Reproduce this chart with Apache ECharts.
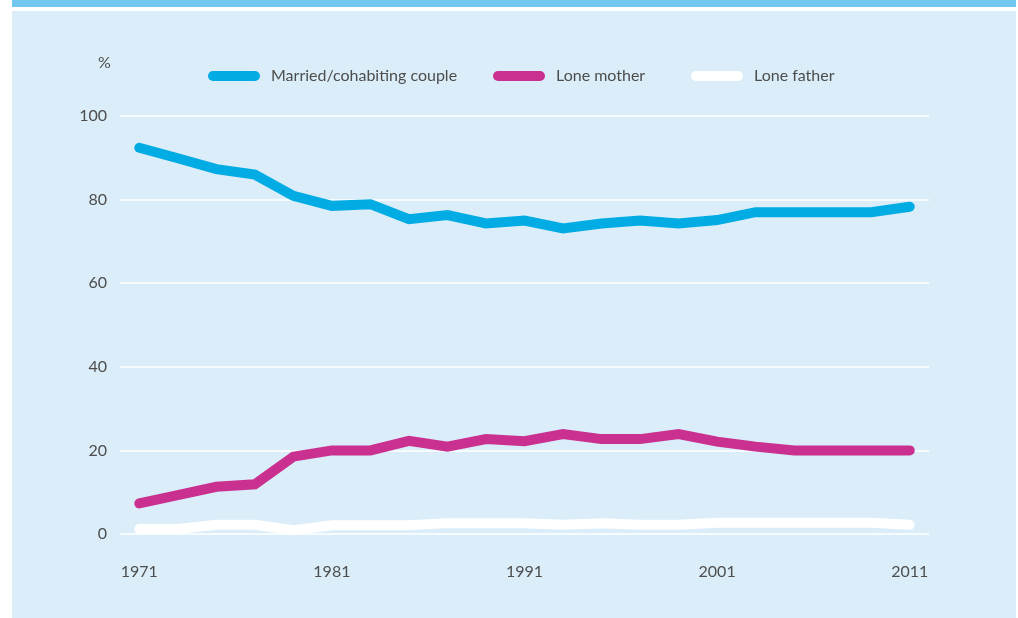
<!DOCTYPE html>
<html>
    <head>
        <meta charset="utf-8">
        <title>chart</title>
        <style>
            html, body { margin: 0; padding: 0; width: 100%; height: 100%; background: #fff; }
            #main { width: 1018px; height: 618px; }
        </style>
    </head>
    <body>
        <div id="main"></div>
        <script src="https://cdn.jsdelivr.net/npm/echarts@6/dist/echarts.min.js"></script>
        <script type="text/javascript">
        var years = ['1971', '1973', '1975', '1977', '1979', '1981', '1983', '1985', '1987', '1989',
            '1991', '1993', '1995', '1997', '1999', '2001', '2003', '2005', '2007', '2009', '2011'];
        var married = [92.4, 89.9, 87.3, 86.0, 80.9, 78.5, 78.9, 75.3, 76.3, 74.3,
            75.0, 73.1, 74.3, 75.0, 74.3, 75.1, 77.0, 77.0, 77.0, 77.0, 78.3];
        var loneMother = [7.3, 9.3, 11.3, 11.9, 18.5, 20.0, 20.0, 22.3, 20.9, 22.7,
            22.2, 23.9, 22.7, 22.7, 23.9, 22.1, 20.9, 20.0, 20.0, 20.0, 20.0];
        var loneFather = [1.2, 1.2, 2.2, 2.2, 0.9, 2.1, 2.1, 2.1, 2.6, 2.6,
            2.6, 2.2, 2.6, 2.2, 2.2, 2.7, 2.7, 2.7, 2.7, 2.7, 2.2];
        var seriesNames = ['Married/cohabiting couple', 'Lone mother', 'Lone father'];
        var seriesColors = ['#00ace3', '#ca3090', '#ffffff'];

        var textColor = '#4d4d4d';
        var font = 'Lato';
        var capsule = 'path://M5,0 H47 A5,5 0 0 1 47,10 H5 A5,5 0 0 1 5,0 Z';
        var legendLeft = [203, 488, 686];

        var myChart = echarts.init(document.getElementById('main'));

        function lineSeries(i, data) {
            return {
                name: seriesNames[i],
                type: 'line',
                data: data,
                symbol: 'none',
                lineStyle: { width: 10, color: seriesColors[i], cap: 'round', join: 'miter' },
                itemStyle: { color: seriesColors[i] },
                emphasis: { disabled: true }
            };
        }

        // one legend per item so each sits where the original put it
        var legends = seriesNames.map(function (name, i) {
            return {
                left: legendLeft[i],
                top: 63,
                itemWidth: 52,
                itemHeight: 10,
                selectedMode: false,
                textStyle: { color: textColor, fontFamily: font, fontSize: 16, padding: [0, 0, 0, 6] },
                data: [{ name: name, icon: capsule }]
            };
        });

        var option = {
            backgroundColor: '#fff',
            animation: false,
            graphic: [{
                type: 'rect',
                z: -10,
                shape: { x: 12, y: 0, width: 1004, height: 7 },
                style: { fill: '#72c7ee' }
            }, {
                type: 'rect',
                z: -10,
                shape: { x: 12, y: 11, width: 1004, height: 607 },
                style: { fill: '#daedf8' }
            }],
            title: {
                text: '%',
                left: 93,
                top: 50,
                textStyle: { color: textColor, fontFamily: font, fontSize: 16, fontWeight: 'normal' }
            },
            legend: legends,
            grid: {
                left: 120,
                right: 89,
                top: 116,
                bottom: 84
            },
            xAxis: {
                type: 'category',
                boundaryGap: true,
                data: years,
                axisLine: { show: false },
                axisTick: { show: false },
                axisLabel: {
                    interval: 4,
                    margin: 30,
                    color: textColor,
                    fontFamily: font,
                    fontSize: 16
                }
            },
            yAxis: {
                type: 'value',
                min: 0,
                max: 100,
                interval: 20,
                axisLine: { show: false },
                axisTick: { show: false },
                axisLabel: { margin: 13, color: textColor, fontFamily: font, fontSize: 16 },
                splitLine: { lineStyle: { color: '#ffffff', width: 1.5 } }
            },
            series: [
                lineSeries(0, married),
                lineSeries(1, loneMother),
                lineSeries(2, loneFather)
            ]
        };
        myChart.setOption(option);
        </script>
    </body>
</html>
